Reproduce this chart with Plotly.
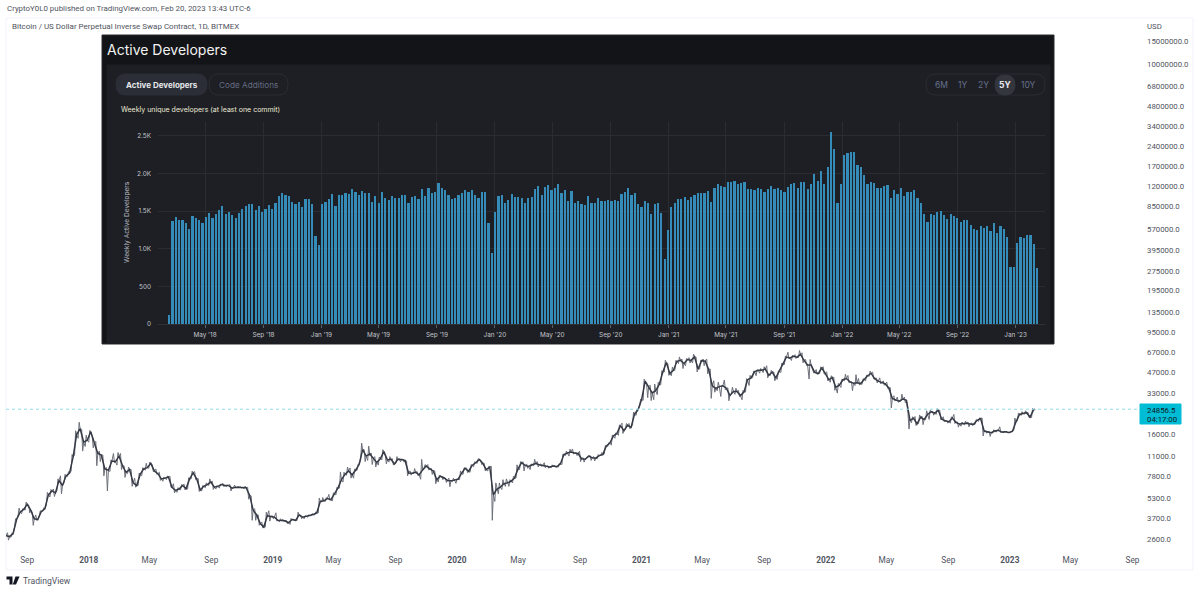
import pandas as pd
import plotly.graph_objects as go

W, H = 1200, 593

# BTC weekly candles (closes, then lows and highs row for row)
price_close = [
    2750, 2720, 2850, 3650, 4150, 4350, 4750, 4300, 3700, 3650, 4200, 4400, 5600, 6000, 5800, 7200, 6600, 7800,
    8200, 10800, 16000, 17700, 14000, 14500,
    16800, 13800, 11500, 11200, 8800, 8600, 10100, 10000, 11000, 9300, 8300, 8700, 6900, 6600, 8000, 8800, 9000,
    9700, 8500, 8100, 7400, 7500, 7650, 6400, 6050, 6200, 6600, 6250, 7400, 8200, 7400, 6100, 6500, 6700, 7000,
    6400, 6500, 6700, 6600, 6600, 6300, 6400, 6400, 6350, 6350, 5550, 4300, 3950, 3400, 3200, 3900, 3850,
    3800, 3600, 3600, 3570, 3450, 3650, 3600, 3950, 3800, 3850, 3900, 3980, 4090, 5000, 5050, 5250, 5150, 5700,
    6300, 7300, 8000, 8500, 7950, 8600, 9500, 12300, 11000, 11400, 10500, 9850, 10500, 11900, 10300, 10400, 9600,
    10400, 10350, 10200, 8200, 8150, 8300, 7950, 8650, 9250, 8800, 8500, 7300, 7750, 7550, 7200, 7150, 7250,
    7350, 8150, 8900, 8450, 9350, 9800, 10350, 9700, 8700, 9100, 5600, 6200, 6400, 6800, 6900, 7100, 7500, 8800,
    9800, 9350, 9200, 9450, 9650, 9450, 9350, 9150, 9100, 9250, 9150, 9600, 11300, 11600, 11800, 11600, 11500,
    10500, 10400, 11000, 10700, 10600, 11100, 11300, 13100, 13800, 15600, 16300, 18700, 17100, 18800, 18100,
    22800, 24700,
    29400, 40500, 36800, 33000, 34300, 38300, 47500, 55900, 46300, 48800, 57200, 58100, 55000, 59000, 58100,
    61700, 50000, 57800, 57300, 49700, 37300, 35700, 36800, 37300, 35800, 31600, 33800, 33800, 31500, 33600,
    41500, 42800, 47800, 48900, 48900, 50000, 44900, 47300, 42800, 48100, 53900, 61500, 60700, 62300, 61400,
    64400, 58100, 53700, 53700, 47200, 46200, 50800, 46300,
    41600, 43000, 36400, 37700, 41500, 42400, 40000, 39100, 39400, 38800, 41800, 44500, 46300, 42300, 40500,
    39700, 38600, 36000, 30000, 29200, 28600, 29700, 29000, 20500, 21200, 19300, 21600, 20800, 22700, 23800,
    23200, 24400, 20900, 20300, 20000, 21300, 19800, 19200, 19400, 19500, 19200, 19100, 20500, 21100, 17000,
    16700, 16500, 17000, 17200, 16700, 16800, 16600,
    16900, 19900, 22700, 23100, 23400, 21700, 24600,
]
price_low = [
    2650, 2550, 2680, 3200, 3950, 4050, 4300, 4100, 3300, 3600, 3900, 4200, 4700, 5400, 5450, 6000, 5700, 6900,
    7700, 8400, 11200, 15000, 12000, 13000,
    14000, 12700, 9300, 10000, 7800, 6000, 8400, 9800, 9400, 8700, 7600, 8100, 6500, 6400, 6600, 7800, 8600,
    8900, 8400, 8000, 7200, 7100, 7300, 6400, 5800, 5850, 6100, 6100, 6200, 7400, 7300, 5950, 6000, 6350, 6600,
    6150, 6200, 6300, 6450, 6450, 6000, 6350, 6350, 6300, 6250, 5200, 3600, 3600, 3300, 3150, 3200, 3550,
    3700, 3550, 3500, 3520, 3400, 3350, 3580, 3590, 3700, 3700, 3800, 3900, 3950, 4090, 4950, 5000, 5100, 5050,
    5600, 6300, 7000, 7900, 7500, 7500, 8600, 10300, 10000, 10200, 9500, 9100, 9400, 10300, 9600, 9900, 9400,
    9700, 9950, 9900, 7800, 7900, 8100, 7800, 7350, 9000, 8650, 8000, 6800, 7000, 7300, 6950, 6450, 7050,
    6850, 7300, 8000, 8250, 8300, 9150, 9700, 9500, 8500, 8500, 3600, 5000, 5700, 6150, 6500, 6500, 6900, 7500,
    8700, 8500, 8900, 8700, 9300, 9100, 9200, 9000, 8900, 9000, 9050, 9100, 9500, 11100, 11000, 11400, 11100,
    10000, 9900, 10650, 10200, 10100, 10500, 11100, 11400, 13000, 13300, 15000, 15800, 16300, 17600, 17700,
    18900, 22300,
    26000, 29000, 30400, 28900, 29300, 32000, 38000, 47500, 44800, 44500, 49000, 55000, 50400, 53000, 55500,
    55500, 47500, 50000, 53000, 46000, 30000, 33400, 34300, 31000, 34800, 28800, 32500, 32200, 31000, 29300,
    33500, 37500, 43000, 44500, 46500, 47000, 42900, 44700, 40700, 41700, 47000, 54000, 59800, 58000, 60000,
    61000, 55700, 53300, 42000, 46800, 45600, 46200, 45700,
    40700, 39700, 34500, 32900, 36300, 40800, 39400, 34300, 37500, 37800, 38300, 40800, 44000, 42100, 39200,
    38600, 37700, 35600, 25400, 28700, 28000, 28600, 27700, 17600, 19700, 18700, 19400, 19000, 20700, 20800,
    22400, 22700, 20700, 19900, 19500, 19500, 19400, 18200, 18500, 18900, 18300, 18700, 19100, 20100, 15600,
    16400, 15500, 16400, 16700, 16500, 16500, 16400,
    16500, 17300, 20300, 22300, 22800, 21500, 21500,
]
price_high = [
    2920, 2900, 2900, 3700, 4450, 4400, 4950, 4700, 4150, 3950, 4250, 4480, 5850, 6150, 6200, 7400, 7800, 8000,
    8400, 11300, 17100, 19800, 17500, 15800,
    17200, 15400, 14200, 12000, 11200, 9000, 10300, 11500, 11700, 11500, 9300, 9100, 8700, 7500, 8200, 9000, 9700,
    9900, 9500, 8800, 8300, 7650, 7800, 7750, 6800, 6350, 6700, 6750, 7550, 8480, 8400, 7450, 6600, 6900, 7400,
    7100, 6550, 6750, 6850, 6650, 6700, 6650, 6520, 6450, 6520, 6400, 5500, 4400, 3950, 3500, 4150, 4250,
    3900, 4100, 3700, 3660, 3580, 3720, 3680, 4150, 3950, 3900, 3960, 4050, 4170, 5300, 5350, 5350, 5650, 5800,
    6400, 8350, 8300, 9100, 8950, 8800, 9600, 13800, 12300, 13100, 11600, 10900, 10800, 12300, 11000, 10900, 10500,
    10900, 10480, 10400, 10100, 8500, 8850, 8400, 10400, 9500, 9500, 8900, 8500, 7900, 7700, 7500, 7500, 7500,
    7400, 8500, 8950, 8950, 9500, 9950, 10500, 10300, 9700, 9200, 9200, 6900, 6900, 7300, 7400, 7300, 7750, 9450,
    10000, 9950, 9600, 9600, 10400, 10000, 9600, 9800, 9300, 9450, 9350, 9700, 11400, 12000, 12400, 12450, 11700,
    12000, 10700, 11000, 11100, 10900, 11300, 11700, 13200, 13900, 15900, 16500, 18900, 19500, 19400, 19400,
    23700, 24800,
    29600, 41900, 38200, 37700, 38500, 39700, 48500, 58300, 55000, 51800, 58100, 61700, 59400, 60000, 61000,
    64900, 61500, 58000, 59500, 59500, 50000, 40800, 39800, 37600, 41300, 36000, 36500, 35800, 34500, 34500,
    42300, 44800, 48200, 49400, 50500, 52000, 52900, 48800, 47500, 48400, 55500, 62500, 67000, 63600, 64200,
    69000, 66300, 59000, 59000, 50000, 49500, 51900, 52000,
    47600, 44500, 43300, 38900, 41800, 45700, 44700, 40100, 45300, 42400, 42300, 45000, 48200, 47400, 42900,
    42900, 40700, 39800, 36200, 31400, 30700, 32300, 30700, 23300, 21800, 21900, 22500, 22000, 24200, 24400,
    23900, 25100, 24400, 21800, 20300, 21800, 22700, 19900, 19900, 20200, 19900, 19600, 20700, 21400, 21300,
    17100, 16900, 17400, 17300, 18300, 16900, 16900,
    17000, 21300, 23300, 23800, 24200, 23500, 25200,
]
last_price = 24856.5
last_date = "2023-02-20"

price_ticks = [15000000, 10000000, 6800000, 4800000, 3400000, 2400000, 1700000, 1200000, 850000, 570000, 395000,
               275000, 195000, 135000, 95000, 67000, 47000, 33000, 16000, 11000, 7800, 5300, 3700, 2600]
time_ticks = ["2017-09-01", "2018-01-01", "2018-05-01", "2018-09-01", "2019-01-01", "2019-05-01", "2019-09-01",
              "2020-01-01", "2020-05-01", "2020-09-01", "2021-01-01", "2021-05-01", "2021-09-01", "2022-01-01",
              "2022-05-01", "2022-09-01", "2023-01-01", "2023-05-01", "2023-09-01"]
time_labels = ["Sep", "<b>2018</b>", "May", "Sep", "<b>2019</b>", "May", "Sep", "<b>2020</b>", "May", "Sep",
               "<b>2021</b>", "May", "Sep", "<b>2022</b>", "May", "Sep", "<b>2023</b>", "May", "Sep"]

# weekly active developers, one bar per week
dev_counts = [
    124, 1370, 1423, 1387, 1387, 1348, 1263, 1436, 1410, 1387, 1348, 1427, 1472, 1405, 1462, 1516, 1573, 1462, 1492,
    1450, 1410, 1480, 1528, 1570, 1596, 1596, 1516, 1573, 1490, 1528, 1580, 1528, 1613, 1702, 1742, 1720, 1698, 1627,
    1596, 1627, 1552, 1658, 1658, 1596, 1175, 1050, 1596, 1627, 1662, 1729, 1573, 1720, 1720, 1738, 1729, 1791, 1751,
    1720, 1773, 1742, 1742, 1618, 1698, 1609, 1751, 1671, 1649, 1702, 1680, 1676, 1720, 1720, 1609, 1684, 1702, 1658,
    1791, 1707, 1804,
    1738, 1751, 1880, 1809, 1782, 1720, 1662, 1680, 1711, 1747, 1782, 1755, 1782, 1720, 1676, 1760, 1751, 1339, 940,
    1485, 1702, 1720, 1614, 1649, 1733, 1693, 1684, 1680, 1614, 1671, 1689, 1791, 1840, 1711, 1817, 1844, 1782, 1804,
    1866, 1738, 1786, 1640, 1764, 1605, 1640, 1596, 1583, 1707, 1614, 1605, 1671, 1640, 1631, 1649, 1636, 1645, 1636,
    1729, 1751, 1804, 1711, 1742, 1596, 1560, 1640, 1614, 1463, 1591, 1609, 1472, 869, 1246, 1560, 1614, 1658, 1658,
    1684, 1649, 1693, 1715, 1738, 1738, 1738, 1773, 1627, 1804, 1857, 1835, 1826, 1888, 1888, 1897, 1857,
    1871, 1884, 1795, 1795, 1782, 1804, 1791, 1751, 1791, 1831, 1795, 1804, 1782, 1760, 1818, 1857, 1875, 1813, 1884,
    1884, 1791, 1857, 1995, 1902, 2030, 1862, 2092, 2558, 2327, 1605, 1862, 2243, 2274, 2287, 2283, 2110, 2092, 1982,
    1862, 1893, 1871, 1809, 1813, 1831, 1844, 1676, 1782, 1729, 1804, 1698, 1760, 1751, 1778, 1671, 1609, 1458, 1361,
    1463, 1454, 1494, 1503, 1454, 1392, 1467, 1436, 1414, 1356, 1379, 1379, 1321, 1268, 1246, 1299, 1277, 1308, 1232,
    1343, 1210, 1303, 1263, 1161, 754, 758, 1082, 1157, 1139, 1179, 1184, 1059, 740,
]
dev_ticks = [0, 500, 1000, 1500, 2000, 2500]
dev_tick_labels = ["0", "500", "1.0K", "1.5K", "2.0K", "2.5K"]
dev_time_ticks = ["2018-05-01", "2018-09-01", "2019-01-01", "2019-05-01", "2019-09-01", "2020-01-01", "2020-05-01",
                  "2020-09-01", "2021-01-01", "2021-05-01", "2021-09-01", "2022-01-01", "2022-05-01", "2022-09-01",
                  "2023-01-01"]
dev_time_labels = ["May '18", "Sep '18", "Jan '19", "May '19", "Sep '19", "Jan '20", "May '20", "Sep '20", "Jan '21",
                   "May '21", "Sep '21", "Jan '22", "May '22", "Sep '22", "Jan '23"]
range_buttons = ["6M", "1Y", "2Y", "5Y", "10Y"]

TV_FONT = "Roboto"
PANEL_FONT = "Inter"


def px(x):
    return x / W


def py(y):
    return 1 - y / H


def rect(x0, y0, x1, y1, fill, line=None):
    return dict(type="rect", xref="paper", yref="paper", x0=px(x0), x1=px(x1), y0=py(y0), y1=py(y1),
                fillcolor=fill, line=dict(color=line or fill, width=1), layer="below")


def pill(x0, y0, x1, y1, r, fill, line=None):
    X0, X1, Y0, Y1 = px(x0), px(x1), py(y0), py(y1)
    rx, ry = r / W, r / H
    path = (f"M {X0 + rx} {Y0} L {X1 - rx} {Y0} Q {X1} {Y0} {X1} {Y0 - ry} L {X1} {Y1 + ry} Q {X1} {Y1} {X1 - rx} {Y1} "
            f"L {X0 + rx} {Y1} Q {X0} {Y1} {X0} {Y1 + ry} L {X0} {Y0 - ry} Q {X0} {Y0} {X0 + rx} {Y0} Z")
    return dict(type="path", xref="paper", yref="paper", path=path, fillcolor=fill,
                line=dict(color=line or fill, width=1), layer="below")


def poly(points, fill):
    path = "M " + " L ".join(f"{px(x)} {py(y)}" for x, y in points) + " Z"
    return dict(type="path", xref="paper", yref="paper", path=path, fillcolor=fill, line=dict(width=0), layer="below")


def label(x, y, text, size, color, anchor="left", family=TV_FONT, angle=0):
    return dict(x=px(x), y=py(y), xref="paper", yref="paper", text=text, showarrow=False, xanchor=anchor,
                yanchor="middle", textangle=angle, font=dict(size=size, color=color, family=family))


week_dates = list(pd.date_range("2017-07-21", periods=len(price_close), freq="7D"))
dev_dates = pd.date_range("2018-02-15", periods=len(dev_counts), freq="7D")

# jagged path through each week's range, spread over the week so it reads like daily candles
path_x, path_y = [], []
prev = price_close[0]
for d, lo, hi, cl in zip(week_dates, price_low, price_high, price_close):
    first, second = (lo, hi) if cl >= prev else (hi, lo)
    path_x += [d - pd.Timedelta(days=4), d - pd.Timedelta(days=2), d]
    path_y += [first, second, cl]
    prev = cl
path_x.append(pd.Timestamp(last_date))
path_y.append(last_price)

fig = go.Figure()

# price
fig.add_trace(go.Scatter(x=path_x, y=path_y, mode="lines", line=dict(color="#6d707a", width=1)))
fig.add_trace(go.Scatter(x=week_dates + [pd.Timestamp(last_date)], y=price_close + [last_price], mode="lines",
                         line=dict(color="#363a45", width=1.5)))
fig.add_trace(go.Scatter(x=["2017-07-21", "2023-09-12"], y=[last_price, last_price], mode="lines",
                         line=dict(color="#8fdde8", width=1, dash="dot"), hoverinfo="skip"))

# developers
fig.add_trace(go.Bar(x=dev_dates, y=dev_counts, width=7 * 86400000 * 0.52, marker=dict(color="#358cb8", line_width=0),
                     xaxis="x2", yaxis="y2"))

shapes = [
    rect(6, 18, 1193, 570, "rgba(0,0,0,0)", "#f0f3fa"),
    rect(102, 35, 1054, 344, "#131417", "#2a2b2e"),
    rect(107, 65, 1050, 343, "#1d1f24"),
    pill(116, 74, 207, 95, 10, "#2b2e36"),
    pill(209, 74, 288, 95, 10, "#1d1f24", "#2a2d34"),
    pill(926, 74, 1045, 95, 10, "#1d1f24", "#2a2d34"),
    pill(995, 75, 1015, 95, 10, "#33363d"),
    rect(1140, 404, 1181, 424, "#00bcd4"),
    poly([(6.5, 576.5), (12.5, 576.5), (12.5, 584.5), (9.5, 584.5), (9.5, 579.5), (6.5, 579.5)], "#131722"),
    poly([(15.5, 576.5), (19.5, 576.5), (16, 584.5), (12.8, 584.5)], "#131722"),
]

annotations = [
    label(5, 9, "CryptoY0L0 published on TradingView.com, Feb 20, 2023 13:43 UTC-6", 7.9, "#50535e"),
    label(10, 27, "Bitcoin / US Dollar Perpetual Inverse Swap Contract, 1D, BITMEX", 8, "#50535e"),
    label(1145, 26, "USD", 7.8, "#50535e"),
    label(1145, 410, "24856.5", 7.8, "#131722"),
    label(1145, 419, "04:17:00", 7.8, "#131722"),
    label(20.5, 581, "TradingView", 8.6, "#50535e"),
    label(105, 50, "Active Developers", 14, "#f2f2f2", family=PANEL_FONT),
    label(161.5, 85, "<b>Active Developers</b>", 8, "#e4e6ea", "center", PANEL_FONT),
    label(248.5, 85, "Code Additions", 8.2, "#666c82", "center", PANEL_FONT),
    label(119, 109, "Weekly unique developers (at least one commit)", 7, "#ece8d6", family=PANEL_FONT),
    label(127, 222, "Weekly Active Developers", 6.6, "#b9bbc0", "center", PANEL_FONT, -90),
]
for name, xpos in zip(range_buttons, [941, 962.5, 983, 1005, 1028]):
    if name == "5Y":
        annotations.append(label(xpos, 85, "<b>5Y</b>", 8.5, "#e8eaf0", "center", PANEL_FONT))
    else:
        annotations.append(label(xpos, 85, name, 8.5, "#666f8c", "center", PANEL_FONT))

fig.update_layout(
    width=W,
    height=H,
    margin=dict(l=0, r=0, t=0, b=0, pad=0),
    autosize=False,
    showlegend=False,
    paper_bgcolor="white",
    plot_bgcolor="rgba(0,0,0,0)",
    bargap=0,
    shapes=shapes,
    annotations=annotations,
    xaxis=dict(
        automargin=False,
        domain=[px(6), px(1138)],
        type="date",
        range=["2017-07-21", "2023-09-12"],
        tickmode="array",
        tickvals=time_ticks,
        ticktext=time_labels,
        ticks="",
        showgrid=False,
        zeroline=False,
        showline=False,
        tickangle=0,
        ticklabelstandoff=2,
        tickfont=dict(family=TV_FONT, size=8.3, color="#50535e"),
    ),
    yaxis=dict(
        automargin=False,
        domain=[py(552), py(18)],
        type="log",
        range=[3.317, 7.35],
        side="right",
        tickmode="array",
        tickvals=price_ticks,
        ticktext=[f"{t}.0" for t in price_ticks],
        ticks="",
        showgrid=False,
        zeroline=False,
        showline=False,
        ticklabelstandoff=8,
        tickfont=dict(family=TV_FONT, size=7.8, color="#50535e"),
    ),
    xaxis2=dict(
        automargin=False,
        domain=[px(158), px(1045)],
        anchor="y2",
        type="date",
        range=["2018-01-22", "2023-03-04"],
        tickmode="array",
        tickvals=dev_time_ticks,
        ticktext=dev_time_labels,
        ticks="outside",
        ticklen=3,
        tickcolor="#5a5d64",
        showgrid=True,
        gridcolor="#2a2c32",
        gridwidth=1,
        showline=True,
        linecolor="#2e3036",
        zeroline=False,
        tickangle=0,
        ticklabelstandoff=1,
        tickfont=dict(family=PANEL_FONT, size=6.4, color="#c4c6cc"),
    ),
    yaxis2=dict(
        automargin=False,
        domain=[py(324), py(122)],
        anchor="x2",
        range=[0, 2686],
        tickmode="array",
        tickvals=dev_ticks,
        ticktext=dev_tick_labels,
        ticks="",
        showgrid=True,
        gridcolor="#2a2c32",
        gridwidth=1,
        zeroline=False,
        showline=False,
        ticklabelstandoff=6,
        tickfont=dict(family=PANEL_FONT, size=6.4, color="#c4c6cc"),
    ),
)

page_css = ("document.body.style.margin='0';document.body.style.overflow='hidden';"
            "document.documentElement.style.overflow='hidden';")
fig.write_html("out.html", config={"displayModeBar": False}, post_script=page_css)
